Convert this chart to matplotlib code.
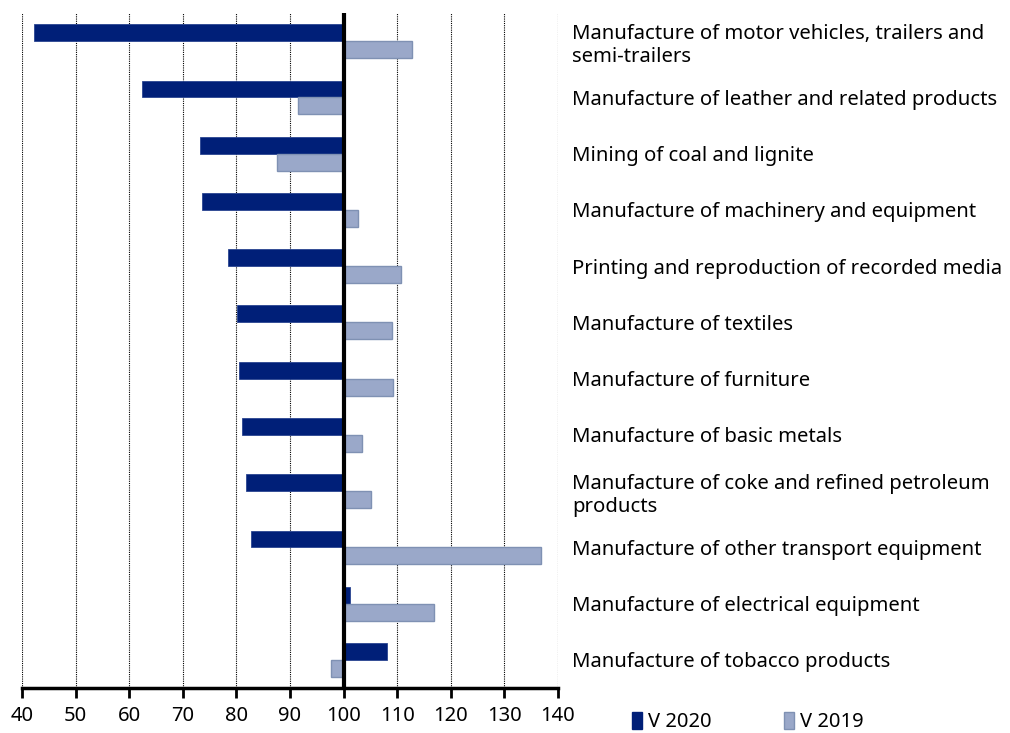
import matplotlib
matplotlib.use("Agg")
import matplotlib.pyplot as plt
from matplotlib.patches import Patch
import numpy as np

# data (index, base = 100)
categories = [
    "Manufacture of motor vehicles, trailers and\nsemi-trailers",
    "Manufacture of leather and related products",
    "Mining of coal and lignite",
    "Manufacture of machinery and equipment",
    "Printing and reproduction of recorded media",
    "Manufacture of textiles",
    "Manufacture of furniture",
    "Manufacture of basic metals",
    "Manufacture of coke and refined petroleum\nproducts",
    "Manufacture of other transport equipment",
    "Manufacture of electrical equipment",
    "Manufacture of tobacco products",
]
v2020 = [42.2, 62.4, 73.2, 73.6, 78.4, 80.1, 80.4, 81.1, 81.7, 82.7, 101.2, 108.1]
v2019 = [112.8, 91.5, 87.6, 102.7, 110.8, 109.1, 109.3, 103.4, 105.2, 136.8, 116.9, 97.6]

dark = "#001f78"
light = "#9aa8c9"
light_edge = "#7f91b3"

plt.rcParams['font.family'] = ['Noto Sans', 'DejaVu Sans']

fig = plt.figure(figsize=(10.1, 7.33), dpi=100)
ax = fig.add_axes([22 / 1010, 45 / 733, 536 / 1010, 675 / 733])

y = np.arange(len(categories))
h = 0.3
base = 100
ax.barh(y - h / 2, np.array(v2020) - base, left=base, height=h,
        color=dark, edgecolor="#2a4590", linewidth=0.6, zorder=3)
ax.barh(y + h / 2, np.array(v2019) - base, left=base, height=h,
        color=light, edgecolor=light_edge, linewidth=1.0, zorder=3)

ax.set_xlim(40, 140)
ax.set_ylim(len(categories) - 0.5, -0.5)
ax.set_xticks(np.arange(40, 141, 10))
ax.tick_params(axis="x", direction="out", length=7, width=2, labelsize=14.5, pad=6)
ax.grid(axis="x", color="black", linestyle=(0, (1, 1)), linewidth=0.8, zorder=0)

ax.yaxis.tick_right()
ax.set_yticks(y)
ax.set_yticklabels(categories, fontsize=14.6, linespacing=1.2)
ax.tick_params(axis="y", length=0, pad=10)

for s in ["top", "left", "right"]:
    ax.spines[s].set_visible(False)
ax.spines["bottom"].set_linewidth(2.5)
ax.axvline(base, color="black", linewidth=3, zorder=4)

handles = [Patch(facecolor=dark, edgecolor=dark, label="V 2020"),
           Patch(facecolor=light, edgecolor=light_edge, label="V 2019")]
fig.legend(handles=handles, ncol=2, frameon=False, fontsize=14.5,
           loc="center", bbox_to_anchor=(748 / 1010, 1 - 722 / 733),
           handlelength=0.5, handleheight=0.9, handletextpad=0.3,
           columnspacing=3.6)

fig.savefig("out.png", dpi=100)
